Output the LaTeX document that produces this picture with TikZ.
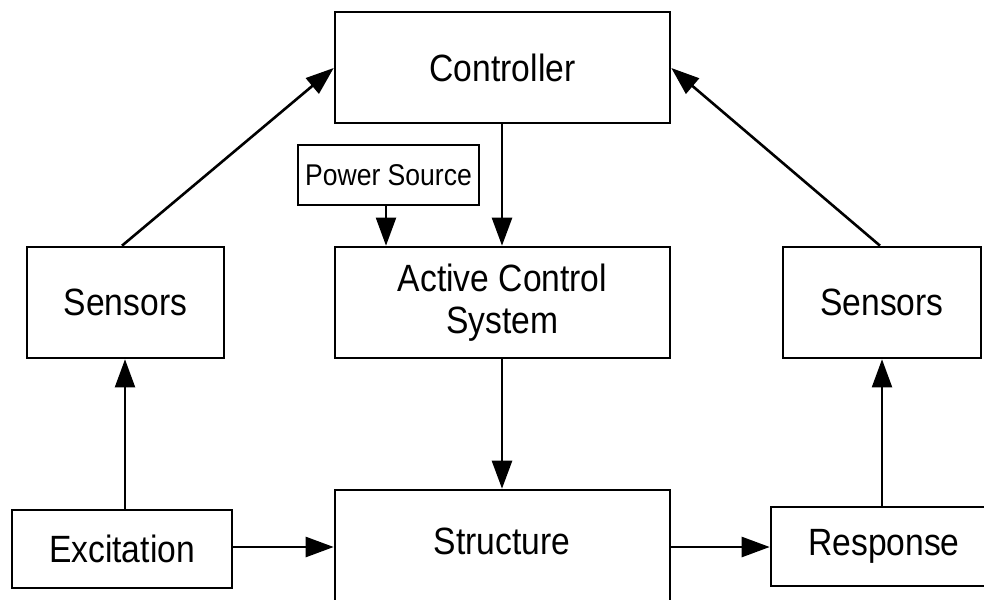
\documentclass[tikz,border=0pt]{standalone}
\usepackage{fontspec}
\setmainfont{Liberation Sans}[FakeStretch=0.885]
\usetikzlibrary{arrows.meta}

\tikzset{
  box/.style={draw, line width=2.6pt, inner sep=0pt, align=center,
    font=\fontsize{38}{42}\selectfont},
  smallbox/.style={draw, line width=2pt, inner sep=0pt,
    font=\fontsize{30}{34}\selectfont},
  conn/.style={->, line width=2.6pt},
  thinconn/.style={->, line width=2pt}
}

\begin{document}
\begin{tikzpicture}[x=1pt,y=-1pt,>={Triangle[length=28pt,width=20pt]}]
        \useasboundingbox (0,0) rectangle (984,599);
        \node[box, minimum width=335pt, minimum height=111pt](ctrl) at (502.5,67.5) {Controller};
        \node[smallbox, minimum width=181pt, minimum height=60pt](power) at (388.5,175) {Power Source};
        \node[box, minimum width=335pt, minimum height=111pt](acs) at (502.5,302.5) {Active Control\\System};
        \node[box, minimum width=197pt, minimum height=111pt](sensL) at (125.5,302.5) {Sensors};
        \node[box, minimum width=198pt, minimum height=111pt](sensR) at (882,302.5) {Sensors};
        \node[box, minimum width=220pt, minimum height=78pt](exc) at (122,549) {Excitation};
        \node[box, minimum width=335pt, minimum height=150pt](struct) at (502.5,565) {};
        \node[font=\fontsize{38}{42}\selectfont](structtxt) at (502,541) {Structure};
        \node[box, minimum width=226pt, minimum height=79pt](resp) at (884,546.5) {Response};
        \draw[conn](sensL.north -| 122,0)--(ctrl.west |- 0,68);
        \draw[conn](sensR.north -| 880,0)--(ctrl.east |- 0,68);
        \draw[conn](ctrl.south -| 502,0)--(acs.north -| 502,0);
        \draw[thinconn](power.south -| 386,0)--(acs.north -| 386,0);
        \draw[conn](acs.south -| 502,0)--(struct.north -| 502,0);
        \draw[thinconn](exc.north -| 125,0)--(sensL.south -| 125,0);
        \draw[thinconn](resp.north -| 882,0)--(sensR.south -| 882,0);
        \draw[conn](exc.east |- 0,547)--(struct.west |- 0,547);
        \draw[conn](struct.east |- 0,547)--(resp.west |- 0,547);
        \end{tikzpicture}
\end{document}
